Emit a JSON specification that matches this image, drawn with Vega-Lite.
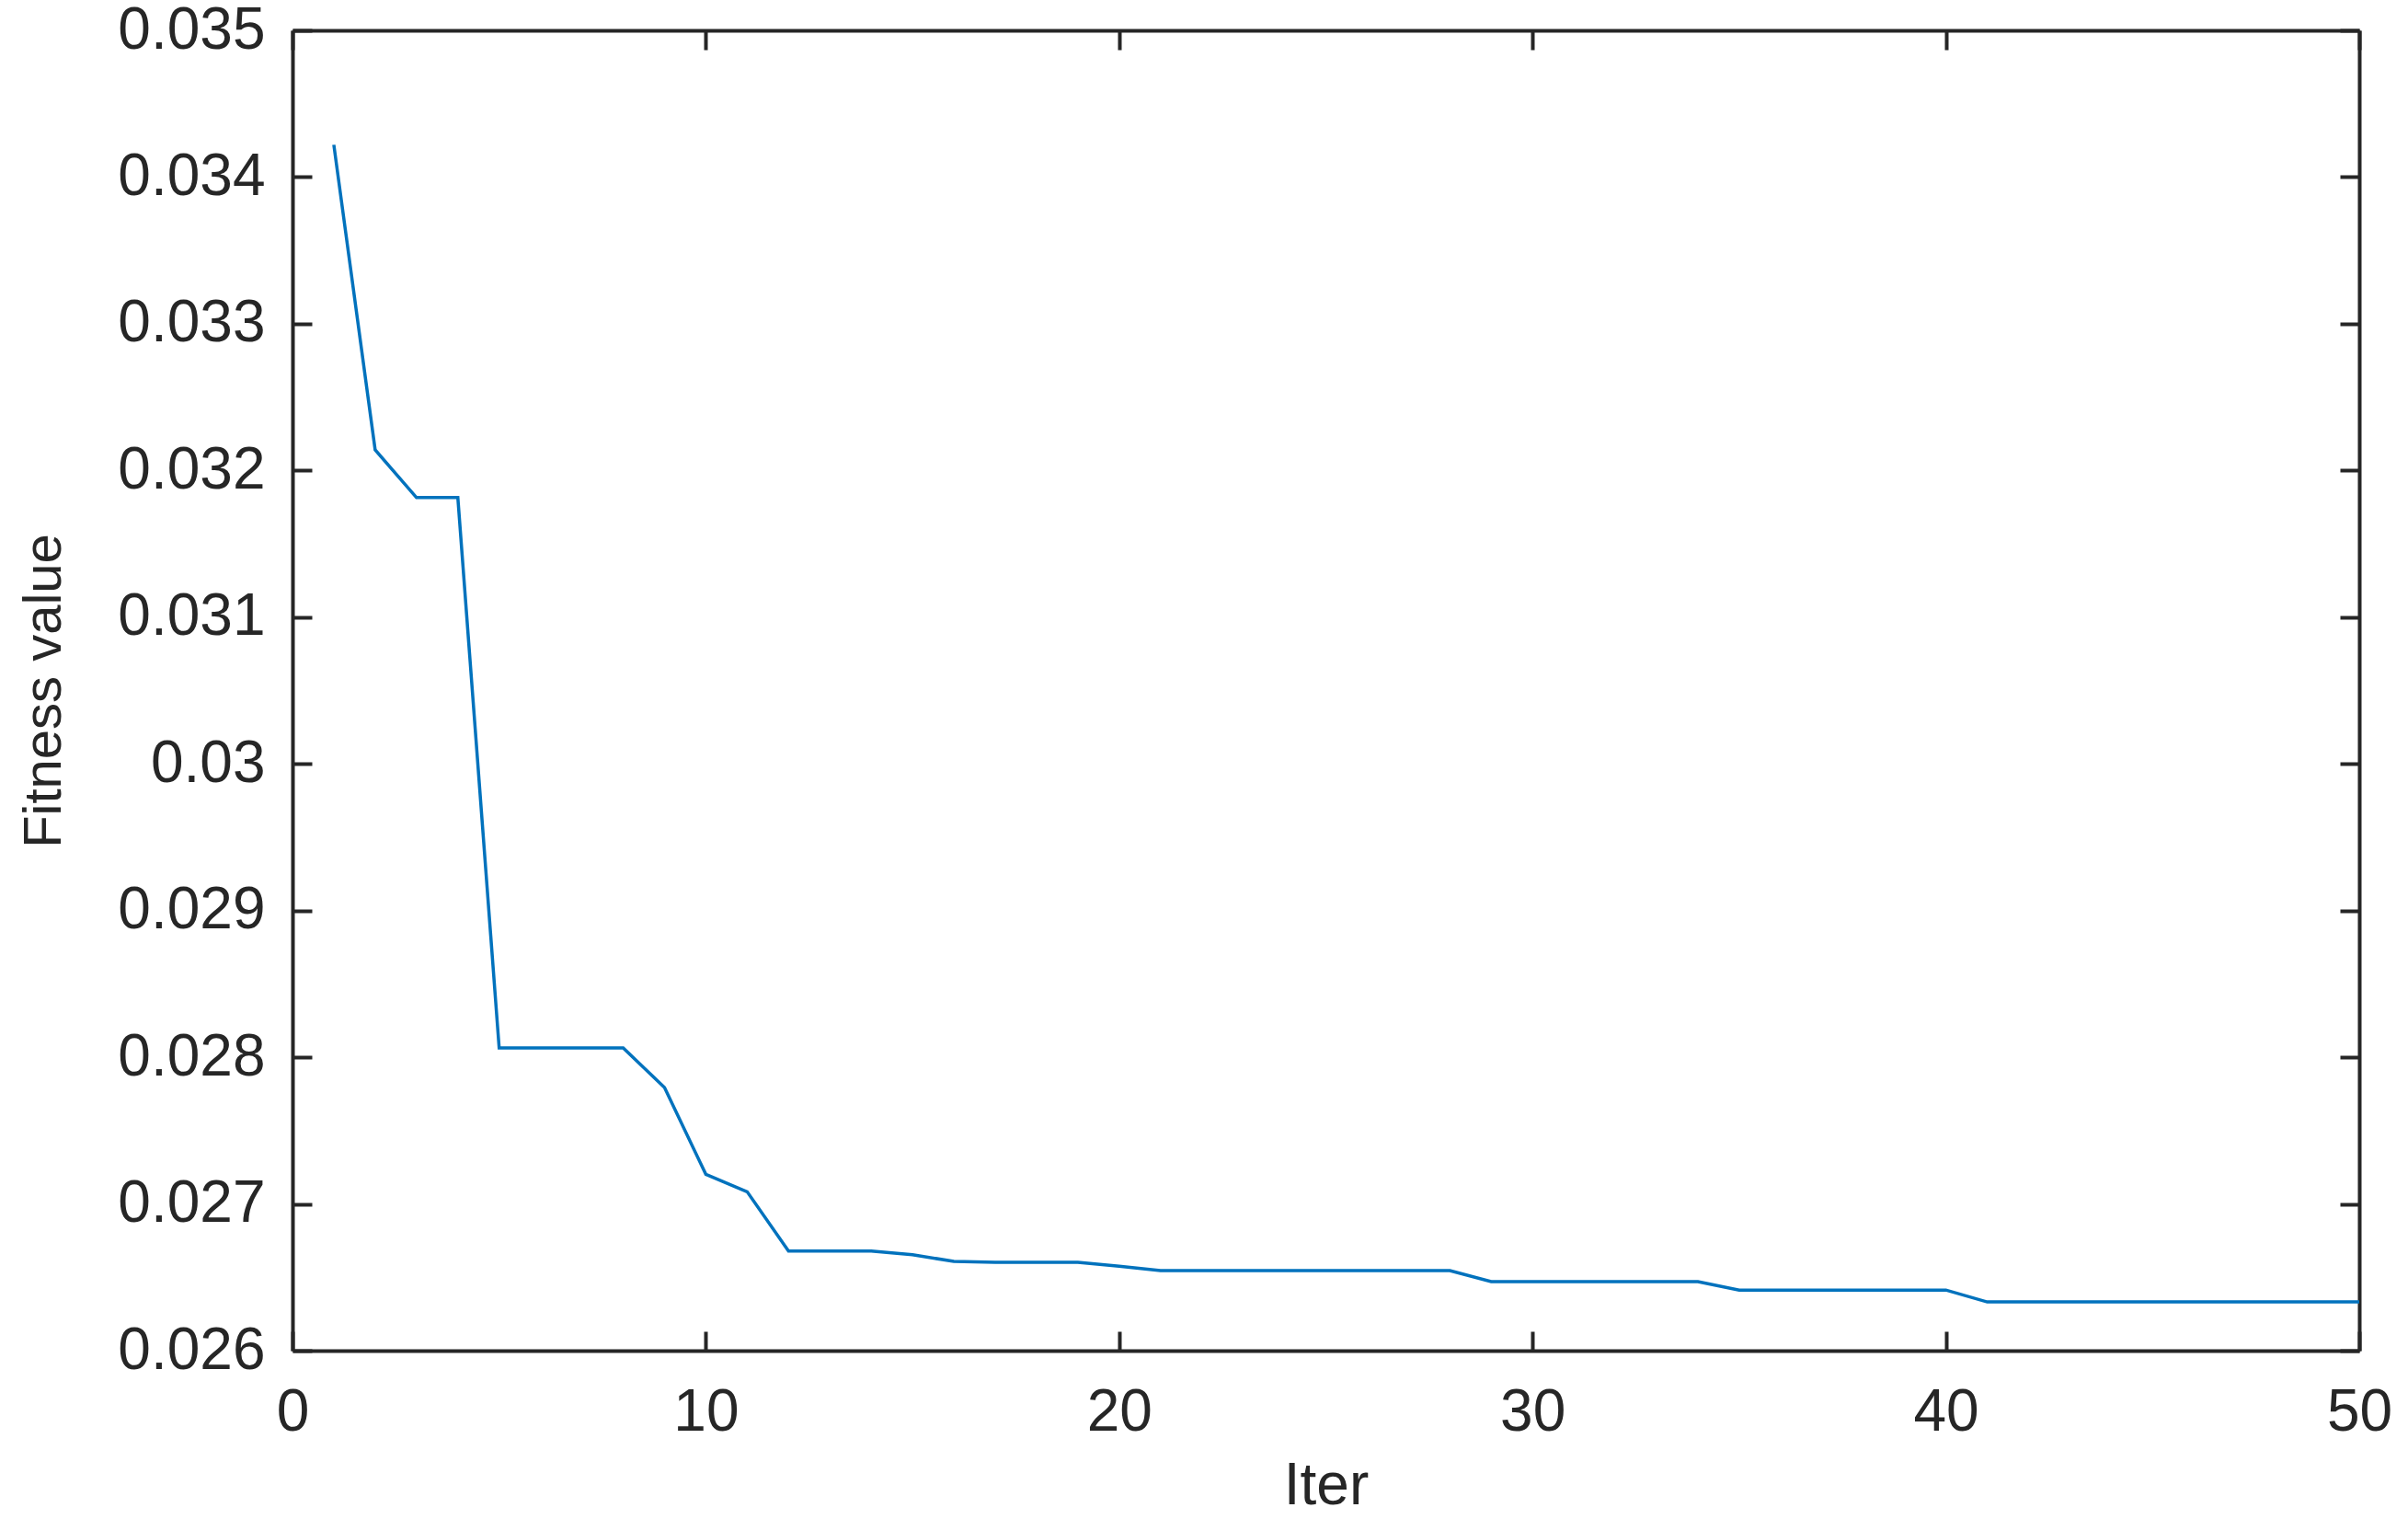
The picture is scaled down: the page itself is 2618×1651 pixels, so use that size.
{
  "$schema": "https://vega.github.io/schema/vega-lite/v6.json",
  "autosize": {"type": "none"},
  "width": 2247,
  "height": 1435,
  "padding": {"left": 318, "top": 33, "right": 53, "bottom": 183},
  "background": "white",
  "config": {
    "view": {"stroke": null},
    "font": "Liberation Sans",
    "axis": {
      "grid": false,
      "domainColor": "#262626",
      "domainWidth": 4,
      "tickColor": "#262626",
      "tickWidth": 4,
      "tickSize": -21,
      "labelColor": "#262626",
      "labelFont": "Liberation Sans",
      "labelFontSize": 64,
      "titleColor": "#262626",
      "titleFont": "Liberation Sans",
      "titleFontWeight": "normal"
    }
  },
  "data": {
    "values": [
      {"iter": 1, "fitness": 0.03422},
      {"iter": 2, "fitness": 0.03214},
      {"iter": 3, "fitness": 0.031815},
      {"iter": 4, "fitness": 0.031815},
      {"iter": 5, "fitness": 0.028063},
      {"iter": 6, "fitness": 0.028063},
      {"iter": 7, "fitness": 0.028063},
      {"iter": 8, "fitness": 0.028063},
      {"iter": 9, "fitness": 0.027794},
      {"iter": 10, "fitness": 0.027202},
      {"iter": 11, "fitness": 0.027083},
      {"iter": 12, "fitness": 0.026679},
      {"iter": 13, "fitness": 0.026679},
      {"iter": 14, "fitness": 0.026679},
      {"iter": 15, "fitness": 0.026654},
      {"iter": 16, "fitness": 0.026608},
      {"iter": 17, "fitness": 0.026602},
      {"iter": 18, "fitness": 0.026602},
      {"iter": 19, "fitness": 0.026602},
      {"iter": 20, "fitness": 0.026576},
      {"iter": 21, "fitness": 0.026545},
      {"iter": 22, "fitness": 0.026545},
      {"iter": 23, "fitness": 0.026545},
      {"iter": 24, "fitness": 0.026545},
      {"iter": 25, "fitness": 0.026545},
      {"iter": 26, "fitness": 0.026545},
      {"iter": 27, "fitness": 0.026545},
      {"iter": 28, "fitness": 0.026545},
      {"iter": 29, "fitness": 0.02647},
      {"iter": 30, "fitness": 0.02647},
      {"iter": 31, "fitness": 0.02647},
      {"iter": 32, "fitness": 0.02647},
      {"iter": 33, "fitness": 0.02647},
      {"iter": 34, "fitness": 0.02647},
      {"iter": 35, "fitness": 0.026413},
      {"iter": 36, "fitness": 0.026413},
      {"iter": 37, "fitness": 0.026413},
      {"iter": 38, "fitness": 0.026413},
      {"iter": 39, "fitness": 0.026413},
      {"iter": 40, "fitness": 0.026413},
      {"iter": 41, "fitness": 0.026332},
      {"iter": 42, "fitness": 0.026332},
      {"iter": 43, "fitness": 0.026332},
      {"iter": 44, "fitness": 0.026332},
      {"iter": 45, "fitness": 0.026332},
      {"iter": 46, "fitness": 0.026332},
      {"iter": 47, "fitness": 0.026332},
      {"iter": 48, "fitness": 0.026332},
      {"iter": 49, "fitness": 0.026332},
      {"iter": 50, "fitness": 0.026332}
    ]
  },
  "layer": [
    {
      "mark": {"type": "line", "color": "#0072BD", "strokeWidth": 3.5, "clip": true},
      "encoding": {
        "x": {
          "field": "iter", "type": "quantitative",
          "scale": {"domain": [0, 50], "nice": false, "zero": false},
          "axis": {
            "orient": "bottom", "title": "Iter", "values": [0, 10, 20, 30, 40, 50],
            "titleFontSize": 64, "titlePadding": 16, "labelPadding": 56, "labelFlush": false, "labelOverlap": false
          }
        },
        "y": {
          "field": "fitness", "type": "quantitative",
          "scale": {"domain": [0.026, 0.035], "nice": false, "zero": false},
          "axis": {
            "orient": "left", "title": "Fitness value",
            "values": [0.026, 0.027, 0.028, 0.029, 0.03, 0.031, 0.032, 0.033, 0.034, 0.035],
            "labelExpr": "datum.value == 0.03 ? '0.03' : format(datum.value, '.3f')",
            "titleFontSize": 58, "titlePadding": 50, "labelPadding": 51, "labelFlush": false, "labelOverlap": false
          }
        }
      }
    },
    {
      "mark": {"type": "line", "opacity": 0},
      "encoding": {
        "x": {
          "field": "iter", "type": "quantitative",
          "axis": {"orient": "top", "title": null, "labels": false, "values": [0, 10, 20, 30, 40, 50]}
        },
        "y": {
          "field": "fitness", "type": "quantitative",
          "axis": {"orient": "right", "title": null, "labels": false,
            "values": [0.026, 0.027, 0.028, 0.029, 0.03, 0.031, 0.032, 0.033, 0.034, 0.035]}
        }
      }
    }
  ],
  "resolve": {"axis": {"x": "independent", "y": "independent"}}
}
